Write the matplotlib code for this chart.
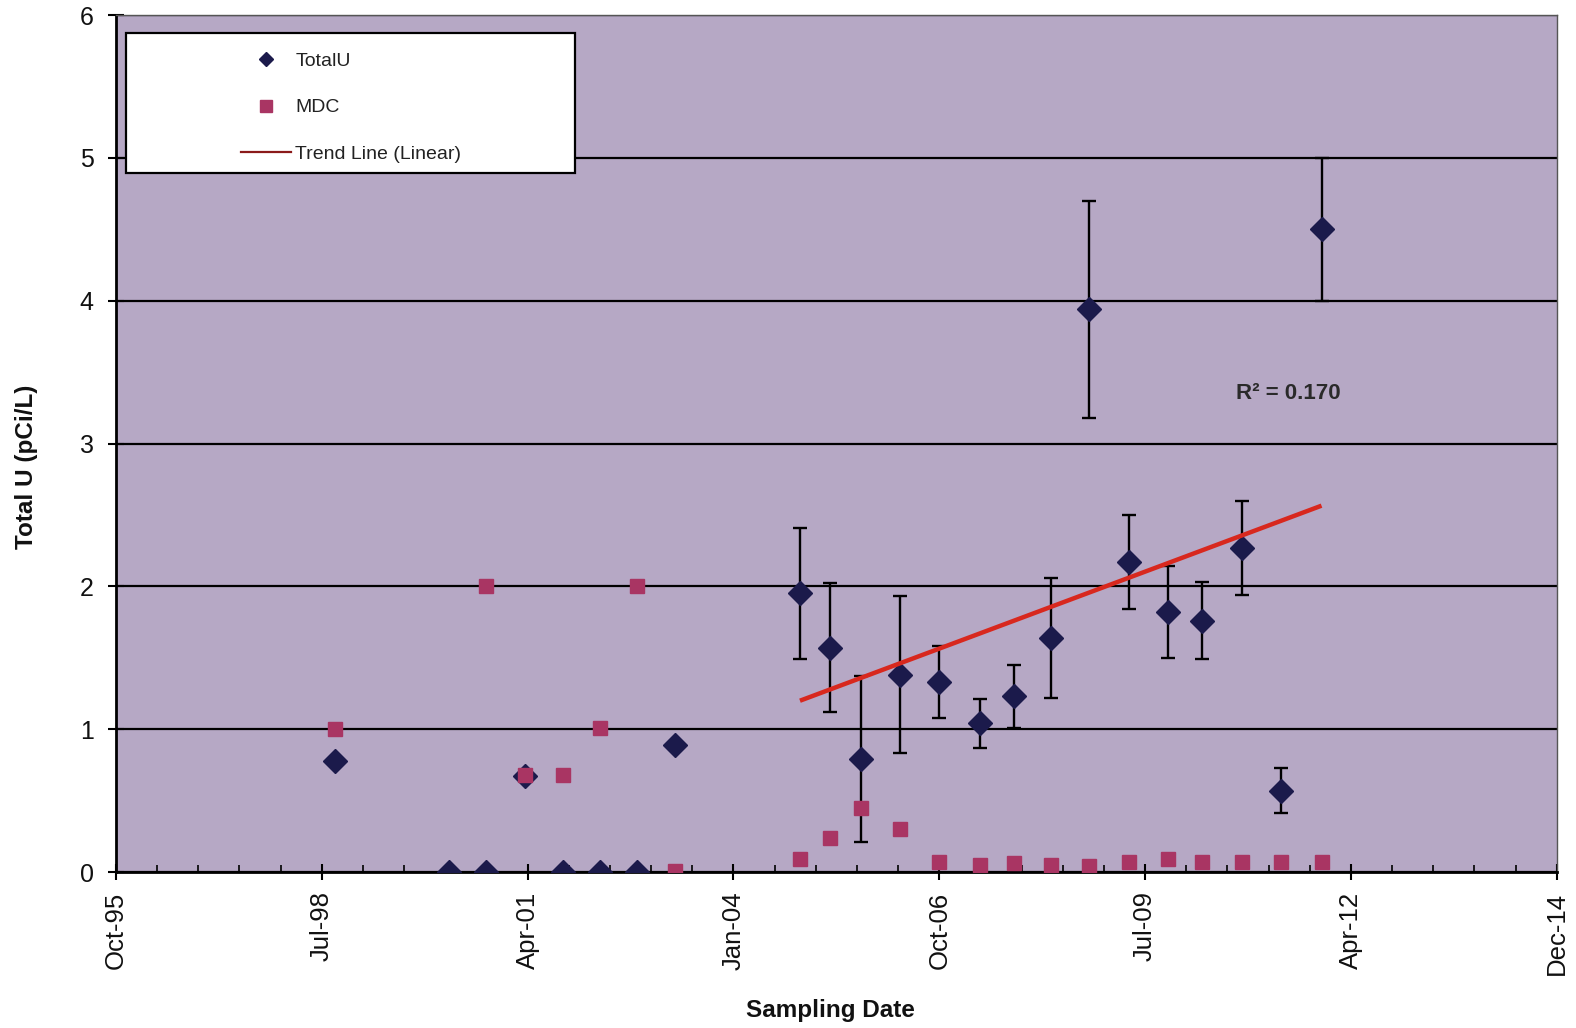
import matplotlib
matplotlib.use('Agg')
import matplotlib.pyplot as plt
import matplotlib.dates as mdates
from matplotlib.lines import Line2D
from matplotlib.patches import Rectangle
import numpy as np
import pandas as pd

plt.rcParams['font.family'] = ['Liberation Sans', 'DejaVu Sans']

# ---------------- data ----------------
sample_dates = ['1998-09-24', '2000-04-03', '2000-10-01', '2001-04-04', '2001-10-07',
                '2002-04-05', '2002-10-03', '2003-04-07', '2004-12-02', '2005-04-27',
                '2005-09-26', '2006-04-04', '2006-10-07', '2007-04-25', '2007-10-08',
                '2008-04-06', '2008-10-08', '2009-04-17', '2009-10-24', '2010-04-08',
                '2010-10-20', '2011-04-29', '2011-11-10']
total_u = [0.78, 0.0, 0.0, 0.67, 0.0, 0.0, 0.0, 0.89, 1.95, 1.57,
           0.79, 1.38, 1.33, 1.04, 1.23, 1.64, 3.94, 2.17, 1.82, 1.76,
           2.27, 0.57, 4.50]
total_u_err = [0, 0, 0, 0, 0, 0, 0, 0, 0.46, 0.45,
               0.58, 0.55, 0.25, 0.17, 0.22, 0.42, 0.76, 0.33, 0.32, 0.27,
               0.33, 0.16, 0.50]
mdc = [1.00, np.nan, 2.00, 0.68, 0.68, 1.01, 2.00, 0.01, 0.09, 0.24,
       0.45, 0.30, 0.07, 0.05, 0.06, 0.05, 0.04, 0.07, 0.09, 0.07,
       0.07, 0.07, 0.07]
trend_start = '2004-12-01'
r2_label = 'R\u00b2 = 0.170'
legend_labels = ['TotalU', 'MDC', 'Trend Line (Linear)']
x_axis_start = '1995-10-28'   # Excel serial 35000
x_axis_end = '2014-12-28'     # Excel serial 42000
y_ticks = [0, 1, 2, 3, 4, 5, 6]

# ---------------- styles ----------------
bg = '#B6A8C5'
navy = '#1B1A4B'
magenta = '#A93563'
red = '#D8281E'

dates = pd.to_datetime(sample_dates)
xnum = mdates.date2num(dates)
tu = np.array(total_u)
err = np.array(total_u_err)
md = np.array(mdc)

fig = plt.figure(figsize=(15.76, 10.28), dpi=100)
ax = fig.add_axes([116 / 1576, 1 - 872 / 1028, 1441 / 1576, 857 / 1028])
ax.set_facecolor(bg)

# gridlines
ax.set_axisbelow(True)
ax.yaxis.grid(True, color='black', lw=1.6)

# error bars
m = err > 0
ax.errorbar(xnum[m], tu[m], yerr=err[m], fmt='none', ecolor='black',
            elinewidth=1.7, capsize=4.7, capthick=1.7, zorder=3)

# TotalU diamonds
ax.plot(xnum, tu, ls='none', marker='D', ms=12, color=navy, zorder=4)

# trend line (linear fit over the later series)
tm = dates >= pd.Timestamp(trend_start)
coef = np.polyfit(xnum[tm], tu[tm], 1)
xt = np.array([xnum[tm].min(), xnum[tm].max()])
ax.plot(xt, np.polyval(coef, xt), color=red, lw=3.2, zorder=4.5, solid_capstyle='butt')

# MDC squares
ax.plot(xnum, md, ls='none', marker='s', ms=10, color=magenta, zorder=5)

# axes limits & ticks
x0 = pd.Timestamp(x_axis_start)
x1 = pd.Timestamp(x_axis_end)
ax.set_xlim(mdates.date2num(x0), mdates.date2num(x1))
ax.set_ylim(0, 6)
major = pd.date_range(x0, periods=8, freq='1000D')
minor = pd.date_range(x0, x1, freq='200D')
ax.set_xticks(mdates.date2num(major))
ax.set_xticks(mdates.date2num(minor), minor=True)
ax.xaxis.set_major_formatter(mdates.DateFormatter('%b-%y'))
ax.set_yticks(y_ticks)

ax.tick_params(axis='x', which='major', direction='inout', length=12, width=1.5,
               labelsize=18.5, pad=8, labelrotation=90, colors='black', labelcolor='#111111')
ax.tick_params(axis='x', which='minor', direction='in', length=5, width=1.2)
ax.tick_params(axis='y', which='major', direction='inout', length=12, width=1.5,
               labelsize=18, pad=10, labelcolor='#111111')

for s in ['left', 'bottom']:
    ax.spines[s].set_color('black')
    ax.spines[s].set_linewidth(2)
for s in ['top', 'right']:
    ax.spines[s].set_color('#555555')
    ax.spines[s].set_linewidth(1)

ax.set_xlabel('Sampling Date', fontsize=17.5, fontweight='bold', color='#111111')
ax.xaxis.set_label_coords(0.4955, -0.148)
ax.set_ylabel('Total U (pCi/L)', fontsize=17.5, fontweight='bold', color='#111111')
ax.yaxis.set_label_coords(-0.054, 0.4726)

# R^2 annotation
ax.text(0.8133, 0.5578, r2_label, transform=ax.transAxes, ha='center', va='center',
        fontsize=16, fontweight='bold', color='#2a2a2a')

# legend box + legend
ax.add_patch(Rectangle((0.0069, 0.8156), 0.3116, 0.1634, transform=ax.transAxes,
                       facecolor='white', edgecolor='black', lw=1.6, zorder=6))
handles = [
    Line2D([], [], ls='none', marker='D', ms=7, color=navy),
    Line2D([], [], ls='none', marker='s', ms=9, color=magenta),
    Line2D([], [], color='#8B1A1A', lw=1.6),
]
leg = ax.legend(handles, legend_labels, loc='upper left', bbox_to_anchor=(0.0867, 0.9569),
                frameon=False, fontsize=14, handlelength=2.6, handletextpad=0.2,
                labelspacing=1.5, borderpad=0, borderaxespad=0)
leg.set_zorder(7)
for t in leg.get_texts():
    t.set_color('#222222')

fig.savefig('out.png', dpi=100, facecolor='white')
